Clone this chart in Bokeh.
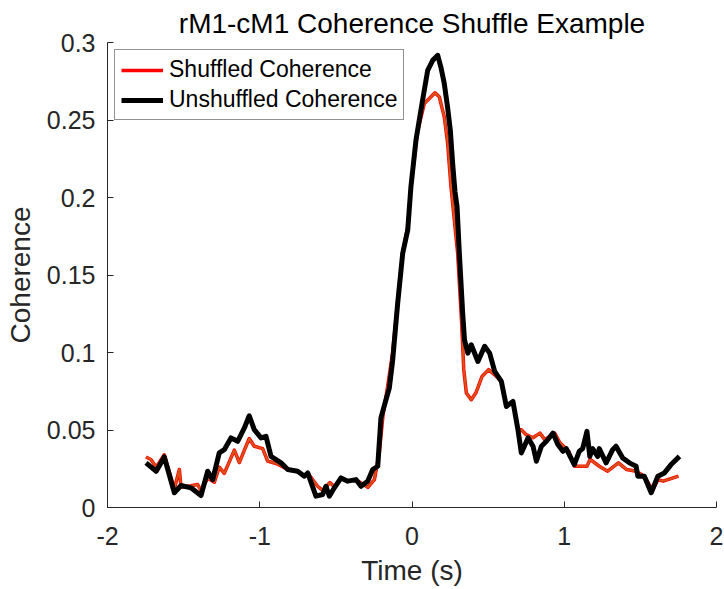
from bokeh.plotting import figure
from bokeh.models import Range1d, FixedTicker, Legend, LegendItem
from bokeh.embed import file_html
from bokeh.resources import INLINE

# Shuffled coherence (time in s, coherence)
t_shuffled = [-1.747, -1.715, -1.68, -1.627, -1.561, -1.528, -1.517, -1.452, -1.408, -1.386,
              -1.342, -1.298, -1.266, -1.233, -1.189, -1.167, -1.134, -1.101, -1.069, -1.036,
              -0.981, -0.948, -0.882, -0.816, -0.751, -0.707, -0.685, -0.62, -0.587, -0.54,
              -0.51, -0.466, -0.422, -0.368, -0.29, -0.247, -0.215, -0.19, -0.16, -0.127,
              -0.094, -0.061, -0.028, -0.007, 0.037, 0.081, 0.125, 0.151, 0.179, 0.212,
              0.234, 0.256, 0.3, 0.325, 0.34, 0.357, 0.389, 0.42, 0.46, 0.503,
              0.543, 0.587, 0.62, 0.663, 0.696, 0.718, 0.75, 0.795, 0.84, 0.872,
              0.937, 0.97, 1.03, 1.066, 1.149, 1.17, 1.23, 1.285, 1.356, 1.41,
              1.472, 1.526, 1.58, 1.615, 1.65, 1.75]
c_shuffled = [0.0326, 0.031, 0.026, 0.034, 0.012, 0.0245, 0.013, 0.014, 0.0148, 0.011,
              0.019, 0.0163, 0.026, 0.022, 0.032, 0.037, 0.029, 0.037, 0.0445, 0.0395,
              0.038, 0.03, 0.028, 0.0245, 0.0234, 0.0202, 0.0223, 0.0137, 0.011, 0.016,
              0.0135, 0.019, 0.017, 0.018, 0.013, 0.018, 0.035, 0.06, 0.078, 0.1,
              0.133, 0.165, 0.181, 0.207, 0.243, 0.2606, 0.265, 0.2675, 0.265, 0.252,
              0.235, 0.207, 0.164, 0.121, 0.0889, 0.0739, 0.0695, 0.074, 0.0846, 0.0889,
              0.0856, 0.0813, 0.0652, 0.0684, 0.0502, 0.0502, 0.047, 0.045, 0.048, 0.0438,
              0.048, 0.042, 0.0363, 0.0266, 0.0266, 0.031, 0.0266, 0.0234, 0.0288, 0.0245,
              0.0234, 0.0202, 0.011, 0.018, 0.017, 0.0202]

# Unshuffled coherence (time in s, coherence)
t_unshuffled = [-1.747, -1.68, -1.627, -1.561, -1.517, -1.452, -1.386, -1.342, -1.309, -1.266,
                -1.233, -1.189, -1.145, -1.101, -1.069, -1.036, -0.992, -0.959, -0.926, -0.86,
                -0.816, -0.751, -0.707, -0.685, -0.631, -0.587, -0.565, -0.543, -0.51, -0.466,
                -0.422, -0.368, -0.335, -0.291, -0.258, -0.225, -0.204, -0.171, -0.149, -0.127,
                -0.094, -0.061, -0.028, -0.007, 0.026, 0.048, 0.07, 0.103, 0.136, 0.169,
                0.19, 0.212, 0.234, 0.252, 0.267, 0.282, 0.296, 0.311, 0.333, 0.345,
                0.367, 0.389, 0.433, 0.477, 0.51, 0.543, 0.587, 0.62, 0.663, 0.696,
                0.718, 0.762, 0.795, 0.817, 0.85, 0.883, 0.926, 0.958, 0.991, 1.013,
                1.066, 1.099, 1.121, 1.149, 1.168, 1.186, 1.219, 1.23, 1.275, 1.318,
                1.34, 1.384, 1.428, 1.472, 1.483, 1.526, 1.571, 1.615, 1.658, 1.702,
                1.757]
c_unshuffled = [0.0288, 0.0234, 0.0326, 0.0095, 0.0142, 0.0127, 0.0077, 0.0234, 0.018, 0.0352,
                0.0373, 0.0449, 0.0427, 0.0513, 0.0592, 0.0502, 0.0449, 0.0459, 0.033, 0.0288,
                0.0245, 0.0234, 0.0202, 0.0223, 0.0073, 0.0084, 0.0137, 0.0073, 0.0127, 0.0191,
                0.017, 0.018, 0.0137, 0.017, 0.0245, 0.0266, 0.0578, 0.0695, 0.077, 0.095,
                0.1318, 0.164, 0.179, 0.207, 0.237, 0.25, 0.263, 0.282, 0.2885, 0.2917,
                0.284, 0.2735, 0.258, 0.243, 0.222, 0.204, 0.194, 0.164, 0.125, 0.108,
                0.0996, 0.105, 0.0942, 0.104, 0.0996, 0.0878, 0.0813, 0.0652, 0.0684, 0.0502,
                0.0352, 0.0449, 0.0395, 0.0298, 0.0395, 0.0427, 0.048, 0.0406, 0.0363, 0.038,
                0.0277, 0.0363, 0.038, 0.0491, 0.033, 0.038, 0.033, 0.038, 0.0288, 0.0373,
                0.0395, 0.032, 0.0288, 0.0266, 0.0202, 0.0202, 0.0095, 0.0202, 0.0223, 0.0277,
                0.033]

x_ticks = [-2, -1, 0, 1, 2]
x_tick_labels = ["-2", "-1", "0", "1", "2"]
y_ticks = [0, 0.05, 0.1, 0.15, 0.2, 0.25, 0.3]
y_tick_labels = ["0", "0.05", "0.1", "0.15", "0.2", "0.25", "0.3"]

FONT = "Liberation Sans"
AX = "#262626"

p = figure(width=724, height=589, output_backend="svg", toolbar_location=None,
           x_range=Range1d(-2, 2), y_range=Range1d(0, 0.3),
           min_border_left=107, min_border_right=8, min_border_top=42, min_border_bottom=82,
           title="rM1-cM1 Coherence Shuffle Example")

p.title.text_font = FONT
p.title.text_font_size = "28px"
p.title.text_font_style = "normal"
p.title.text_color = "black"
p.title.align = "center"
p.title.standoff = 8

p.outline_line_color = None
p.grid.visible = False
p.background_fill_color = "white"
p.border_fill_color = "white"

for ax in (p.xaxis[0], p.yaxis[0]):
    ax.axis_line_color = AX
    ax.axis_line_width = 1
    ax.major_tick_line_color = AX
    ax.major_tick_in = 6
    ax.major_tick_out = 0
    ax.minor_tick_line_color = None
    ax.major_label_text_font = FONT
    ax.major_label_text_font_size = "25px"
    ax.major_label_text_color = AX
    ax.axis_label_text_font = FONT
    ax.axis_label_text_font_size = "28px"
    ax.axis_label_text_font_style = "normal"
    ax.axis_label_text_color = AX

p.xaxis.ticker = FixedTicker(ticks=x_ticks)
p.xaxis.major_label_overrides = {v: s for v, s in zip(x_ticks, x_tick_labels)}
p.xaxis.major_label_standoff = 19
p.xaxis.axis_label = "Time (s)"
p.xaxis.axis_label_standoff = 7

p.yaxis.ticker = FixedTicker(ticks=y_ticks)
p.yaxis.major_label_overrides = {v: s for v, s in zip(y_ticks, y_tick_labels)}
p.yaxis.major_label_standoff = 12
p.yaxis.axis_label = "Coherence"
p.yaxis.axis_label_standoff = 8

# shuffled trace: red edge with an orange core
r_red = p.line(t_shuffled, c_shuffled, line_color="#FF0000", line_width=3.5, line_join="round")
p.line(t_shuffled, c_shuffled, line_color="#D95319", line_width=2, line_join="round")
# unshuffled trace drawn on top
r_black = p.line(t_unshuffled, c_unshuffled, line_color="black", line_width=5, line_join="round")

legend = Legend(items=[LegendItem(label="Shuffled Coherence", renderers=[r_red]),
                       LegendItem(label="Unshuffled Coherence", renderers=[r_black])],
                location="top_left")
legend.margin = 7
legend.padding = 6
legend.spacing = 3
legend.glyph_width = 42
legend.glyph_height = 26
legend.label_height = 26
legend.label_standoff = 6
legend.label_text_font = FONT
legend.label_text_font_size = "23px"
legend.label_text_line_height = 1.0
legend.label_text_color = "black"
legend.border_line_color = AX
legend.border_line_width = 1
legend.background_fill_color = "white"
legend.background_fill_alpha = 1
p.add_layout(legend)

open("out.html", "w").write(file_html(p, INLINE))
